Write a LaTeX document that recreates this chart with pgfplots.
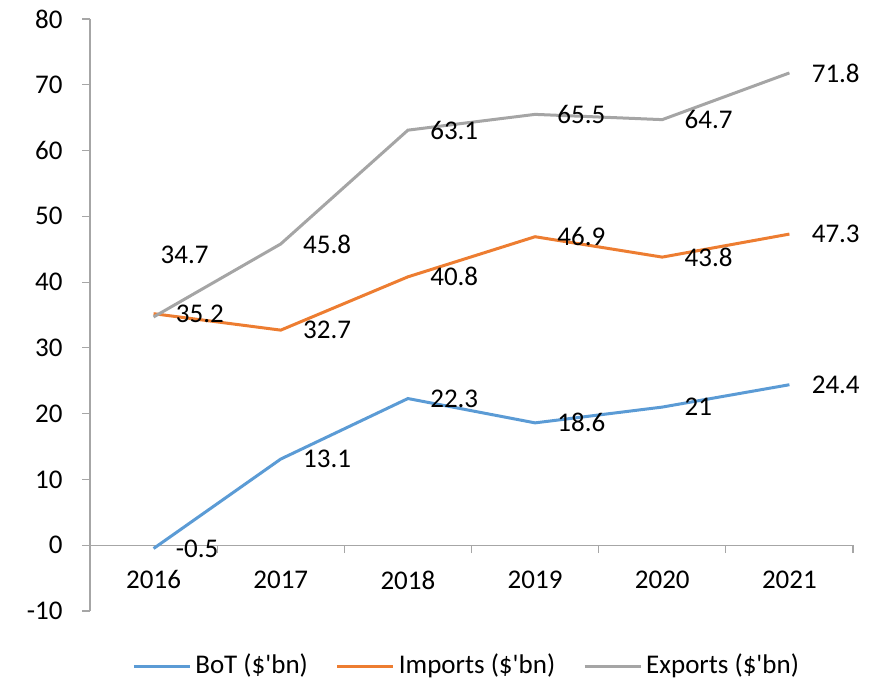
\documentclass[border=0pt]{standalone}
\usepackage{pgfplots}
\pgfplotsset{compat=1.18}
\usepackage{pgfplotstable}
\usepackage{fontspec}
\setmainfont{Carlito}[Ligatures=TeXOff]
\definecolor{botc}{HTML}{5B9BD5}
\definecolor{impc}{HTML}{ED7D31}
\definecolor{expc}{HTML}{A5A5A5}
\definecolor{axc}{HTML}{A6A6A6}
\pgfplotstableread{
x bot imp exp
0 -0.5 35.2 34.7
1 13.1 32.7 45.8
2 22.3 40.8 63.1
3 18.6 46.9 65.5
4 21.0 43.8 64.7
5 24.4 47.3 71.8
}\data
\pgfplotstableread{
x y label
0 -0.5 -0.5
1 13.1 13.1
2 22.3 22.3
3 18.6 18.6
4 21.0 21
5 24.4 24.4
0 35.2 35.2
1 32.7 32.7
2 40.8 40.8
3 46.9 46.9
4 43.8 43.8
5 47.3 47.3
-0.12 44.2 34.7
1 45.8 45.8
2 63.1 63.1
3 65.5 65.5
4 64.7 64.7
5 71.8 71.8
}\labels
\begin{document}
\fontsize{13.5}{16}\selectfont
\begin{tikzpicture}
\useasboundingbox (0,0) rectangle (438pt,342pt);
\begin{axis}[
  at={(45pt,36.5pt)}, anchor=south west,
  scale only axis, width=381.5pt, height=296pt,
  xmin=-0.5, xmax=5.5, ymin=-10, ymax=80,
  axis x line=middle, axis y line=left,
  axis line style={axc, line width=0.6pt, -},
  x axis line style={-}, y axis line style={-},
  xtick={0,...,5}, xticklabels={2016,2017,2018,2019,2020,2021},
  minor xtick={0.5,1.5,2.5,3.5,4.5,5.5},
  ytick={-10,0,...,80},
  tick align=outside,
  major tick length=4pt, minor tick length=4pt,
  major x tick style={draw=none},
  minor x tick style={axc, line width=0.6pt},
  major y tick style={axc, line width=0.6pt},
  tick label style={font=\fontsize{13.5}{16}\selectfont},
  /pgf/number format/assume math mode=true,
  yticklabel style={xshift=-5pt},
  xticklabel style={yshift=-4pt},
  clip=false,
  legend style={at={(0.495,-0.093)}, anchor=center, draw=none, fill=none,
    legend columns=3, font=\fontsize{13.5}{16}\selectfont,
    /tikz/every even column/.append style={column sep=12pt},
    legend cell align=left, inner sep=0pt},
  legend image code/.code={\draw[#1, line width=1.5pt] (0pt,0pt) -- (28pt,0pt);},
]
\addplot[botc, line width=1.5pt] table[x=x, y=bot] {\data};
\addlegendentry{BoT (\$'bn)}
\addplot[impc, line width=1.5pt] table[x=x, y=imp] {\data};
\addlegendentry{Imports (\$'bn)}
\addplot[expc, line width=1.5pt] table[x=x, y=exp] {\data};
\addlegendentry{Exports (\$'bn)}
\addplot[draw=none, forget plot, nodes near coords, point meta=explicit symbolic,
  nodes near coords style={anchor=west, xshift=11pt, inner sep=0pt, text=black,
  font=\fontsize{13.5}{16}\selectfont}]
  table[x=x, y=y, meta=label] {\labels};
\end{axis}
\end{tikzpicture}
\end{document}
